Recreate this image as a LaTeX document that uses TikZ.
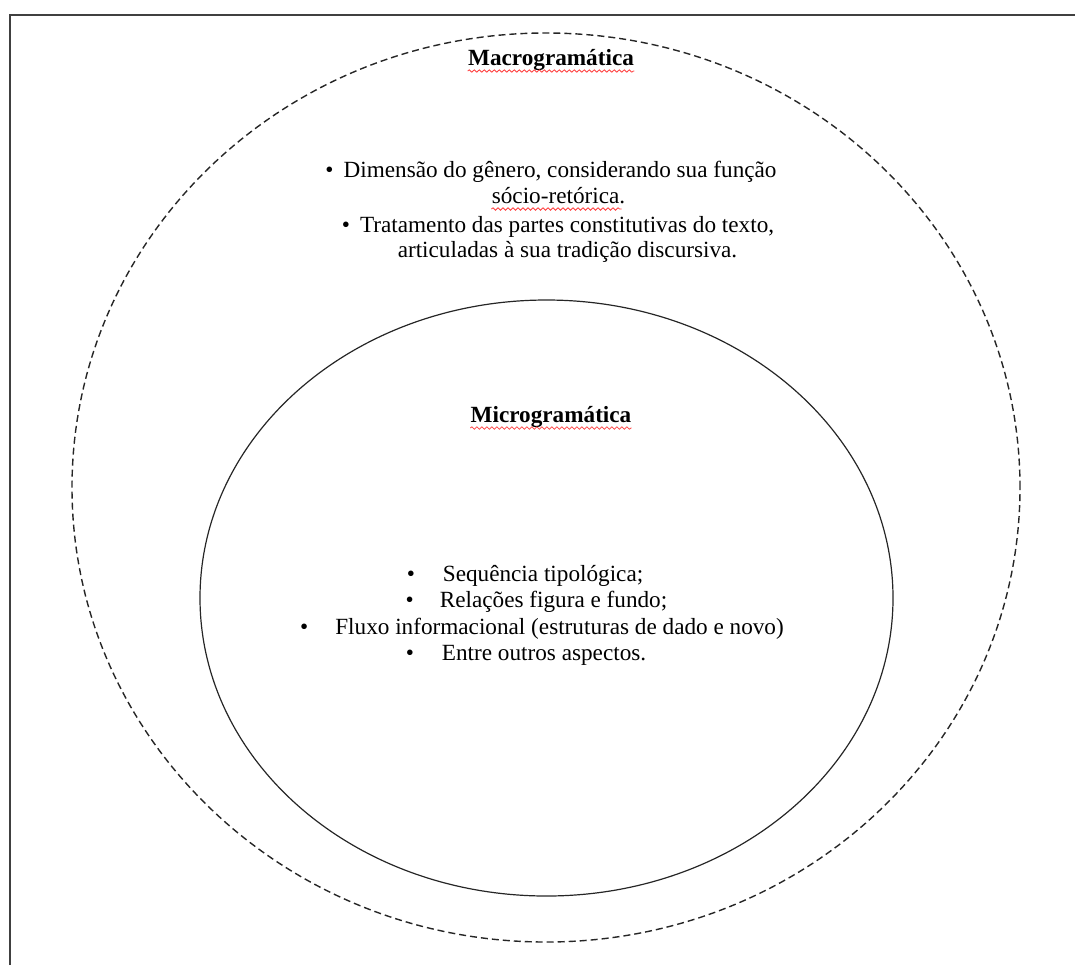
\documentclass[tikz,border=0pt]{standalone}
\usepackage{fontspec}
\setmainfont{Liberation Serif}
\usetikzlibrary{shapes.geometric,decorations.pathmorphing,positioning}
\tikzset{
    % felt = ellipsene
    felt/.style={
           ellipse,
           draw=black!85,
           inner sep=0pt},
    % tekst
    tittel/.style={
           font=\fontsize{11.6pt}{13pt}\selectfont\bfseries,
           inner sep=0pt,
           anchor=base},
    liste/.style={
           font=\fontsize{11.6pt}{13pt}\selectfont,
           inner sep=0pt,
           anchor=base},
    % rod boelgestrek
    krusl/.style={
           red!75,
           line width=0.4pt,
           decorate,
           decoration={snake,amplitude=0.6pt,segment length=2.5pt}}
}

\begin{document}
\begin{tikzpicture}[x=0.5pt,y=-0.5pt]
    \useasboundingbox (0,0) rectangle (1075,965);
    \draw [black!75,line width=1pt] (10,965) -- (10,15) -- (1075,15);
    \node (macro) [felt,dash pattern=on 3.5pt off 2pt,line width=0.7pt,
          minimum width=474pt,minimum height=454.5pt] at (546,487.5) {};
    \node (micro) [felt,line width=0.6pt,
          minimum width=346.5pt,minimum height=298pt] at (546.5,598) {};
    % makro
    \node (macrotitle) [tittel] at (551,65) {Macrogramática};
    \node (macroa) [liste] at (551,177)
          {\textbullet\hspace{5pt}Dimensão do gênero, considerando sua função};
    \node (macrob) [liste] at (558.5,203) {sócio-retórica.};
    \node (macroc) [liste] at (558,232)
          {\textbullet\hspace{5pt}Tratamento das partes constitutivas do texto,};
    \node (macrod) [liste] at (567.5,257) {articuladas à sua tradição discursiva.};
    % mikro
    \node (microtitle) [tittel] at (551,422) {Microgramática};
    \node (microa) [liste] at (525,581)
          {\textbullet\hspace{14pt}Sequência tipológica;};
    \node (microb) [liste] at (536.5,607)
          {\textbullet\hspace{13pt}Relações figura e fundo;};
    \node (microc) [liste] at (542,634)
          {\textbullet\hspace{13.5pt}Fluxo informacional (estruturas de dado e novo)};
    \node (microd) [liste] at (526,660)
          {\textbullet\hspace{14pt}Entre outros aspectos.};
    % stavekontroll
    \draw [krusl] ([yshift=-3pt]macrotitle.base west) -- ([yshift=-3pt]macrotitle.base east);
    \draw [krusl] ([yshift=-3pt]microtitle.base west) -- ([yshift=-3pt]microtitle.base east);
    \draw [krusl] ([yshift=-3pt]macrob.base west) -- ([yshift=-3pt,xshift=-2pt]macrob.base east);
\end{tikzpicture}
\end{document}
